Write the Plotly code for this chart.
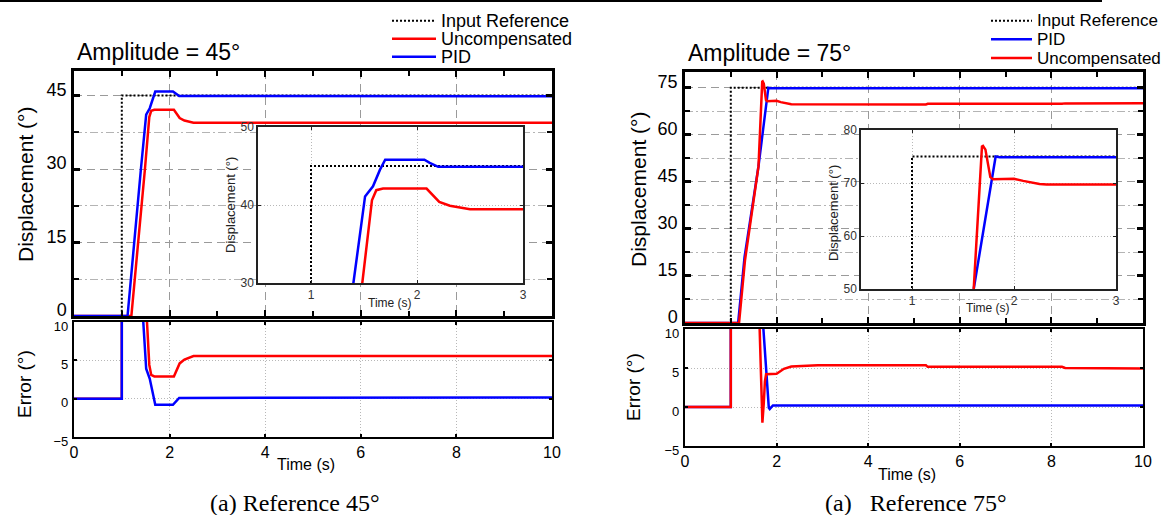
import plotly.graph_objects as go

W, H = 1166, 515

# ---------------- data: Amplitude = 45 deg ----------------
t_ref_45 = [0, 1.0, 1.0, 10]
ref_45 = [0, 0, 45, 45]

t_unc_45 = [0, 1.2, 1.484, 1.575, 1.616, 1.68, 2.09, 2.15, 2.21, 2.31, 2.43, 2.5, 10]
unc_45 = [0, 0, 30, 40.6, 41.9, 42.1, 42.1, 41.3, 40.4, 39.9, 39.6, 39.45, 39.45]

t_pid_45 = [0, 1.12, 1.40, 1.45, 1.51, 1.585, 1.65, 1.70, 2.07, 2.12, 2.2, 10]
pid_45 = [0, 0, 30, 35.2, 41.1, 42.4, 44.5, 45.8, 45.8, 45.4, 44.9, 44.85]

t_err_unc_45 = [0, 1.0, 1.0, 1.2, 1.484, 1.575, 1.616, 1.68, 2.09, 2.15, 2.21, 2.31, 2.43, 2.5, 10]
err_unc_45 = [0, 0, 45, 45, 15, 4.4, 3.1, 2.9, 2.9, 3.7, 4.6, 5.1, 5.4, 5.55, 5.55]

t_err_pid_45 = [0, 1.0, 1.0, 1.12, 1.40, 1.45, 1.51, 1.585, 1.65, 1.70, 2.07, 2.12, 2.2, 10]
err_pid_45 = [0, 0, 45, 45, 15, 9.8, 3.9, 2.6, 0.5, -0.8, -0.8, -0.4, 0.1, 0.15]

# ---------------- data: Amplitude = 75 deg ----------------
t_ref_75 = [0, 1.0, 1.0, 10]
ref_75 = [0, 0, 75, 75]

t_pid_75 = [0, 1.16, 1.30, 1.605, 1.82, 1.86, 10]
pid_75 = [0, 0, 21, 50, 75.0, 74.85, 74.8]

t_unc_75 = [0, 1.18, 1.31, 1.605, 1.686, 1.696, 1.72, 1.745, 1.768, 1.794, 2.0, 2.09, 2.25,
            2.32, 5.26, 5.3, 8.23, 8.3, 10]
unc_75 = [0, 0, 20, 50, 76.9, 77.0, 76.3, 73.2, 71.1, 70.7, 70.8, 70.4, 69.8,
          69.7, 69.65, 69.85, 69.85, 70.0, 70.05]

t_err_pid_75 = [0, 1.0, 1.0, 1.16, 1.30, 1.605, 1.70, 1.83, 1.85, 1.92, 10]
err_pid_75 = [0, 0, 75, 75, 54, 25, 11, -0.1, -0.25, 0.2, 0.2]

t_err_unc_75 = [0, 1.0, 1.0, 1.18, 1.31, 1.60, 1.63, 1.69, 1.72, 1.745, 1.77, 2.0, 2.16, 2.32,
                2.9, 5.26, 5.3, 8.23, 8.3, 10]
err_unc_75 = [0, 0, 75, 75, 55, 25, 10, -2.0, 0.5, 3.3, 4.2, 4.25, 4.9, 5.2,
              5.35, 5.35, 5.15, 5.15, 5.0, 4.95]

legend_45 = ["Input Reference", "Uncompensated", "PID"]
legend_75 = ["Input Reference", "PID", "Uncompensated"]

RED = "#ff0000"
BLUE = "#0000ff"
SANS = "Liberation Sans, Arial, sans-serif"
SERIF = "Liberation Serif, Times New Roman, serif"


def px_x(p):
    return p / W


def px_y(p):
    return 1 - p / H


fig = go.Figure()


def line(x, y, color, xa, ya, dash=None, width=2.5):
    fig.add_trace(go.Scatter(x=x, y=y, mode="lines", xaxis=xa, yaxis=ya, showlegend=False,
                             line=dict(color=color, width=width, dash=dash), hoverinfo="skip"))


DOT = "2px,2px"
# left panel: main (x,y), error (x2,y2), inset (x3,y3)
for xa, ya in [("x", "y"), ("x3", "y3")]:
    line(t_ref_45, ref_45, "black", xa, ya, DOT, 2)
    line(t_unc_45, unc_45, RED, xa, ya)
    line(t_pid_45, pid_45, BLUE, xa, ya)
line(t_err_unc_45, err_unc_45, RED, "x2", "y2")
line(t_err_pid_45, err_pid_45, BLUE, "x2", "y2")

# right panel: main (x4,y4), error (x5,y5), inset (x6,y6)
for xa, ya in [("x4", "y4"), ("x6", "y6")]:
    line(t_ref_75, ref_75, "black", xa, ya, DOT, 2)
    line(t_pid_75, pid_75, BLUE, xa, ya)
    line(t_unc_75, unc_75, RED, xa, ya)
line(t_err_pid_75, err_pid_75, BLUE, "x5", "y5")
line(t_err_unc_75, err_unc_75, RED, "x5", "y5")

DASH_GRID = dict(showgrid=True, gridcolor="#9a9a9a", gridwidth=1.3, griddash="8px,5px")
DOT_GRID = dict(showgrid=True, gridcolor="#b8b8b8", gridwidth=1, griddash="1px,2px")


def main_x(dom, anchor):
    return dict(domain=dom, range=[0, 10], anchor=anchor, showticklabels=False, dtick=2, tick0=0,
                ticks="inside", ticklen=6, tickwidth=2, tickcolor="black", showline=True,
                linewidth=2.5, linecolor="black", mirror="ticks", zeroline=False,
                automargin=False, **DASH_GRID,
                minor=dict(dtick=1, tick0=0, ticks="inside", ticklen=5, tickwidth=2,
                           tickcolor="black", showgrid=False))


def main_y(dom, anchor, top):
    return dict(domain=dom, range=[0, top], anchor=anchor, dtick=15, tick0=0, ticks="inside",
                ticklen=6, tickwidth=2.5, tickcolor="black", showline=True, linewidth=2.5,
                linecolor="black", mirror="ticks", zeroline=False, automargin=False,
                ticklabelshift=-6, ticklabelstandoff=1,
                tickfont=dict(family=SANS, size=18, color="black"), **DASH_GRID,
                minor=dict(dtick=7.5, tick0=0, ticks="inside", ticklen=5, tickwidth=2,
                           tickcolor="black", showgrid=True, gridcolor="#b4b4b4", gridwidth=1,
                           griddash="8px,3px,2px,3px"))


def err_x(dom, anchor):
    return dict(domain=dom, range=[0, 10], anchor=anchor, tickvals=[0, 2, 4, 6, 8, 10],
                ticks="inside", ticklen=3, tickwidth=1.5, tickcolor="black", showline=True,
                linewidth=2.2, linecolor="black", mirror="ticks", zeroline=False,
                automargin=False,
                tickfont=dict(family=SANS, size=16, color="black"), **DOT_GRID)


def err_y(dom, anchor):
    return dict(domain=dom, range=[-5, 10], anchor=anchor, tickvals=[-5, 0, 5, 10],
                ticks="inside", ticklen=3, tickwidth=1.5, tickcolor="black", showline=True,
                linewidth=2.2, linecolor="black", mirror="ticks", zeroline=False,
                automargin=False, ticklabelshift=4, ticklabelstandoff=1,
                tickfont=dict(family=SANS, size=13, color="black"), **DOT_GRID)


def ins_x(dom, anchor):
    return dict(domain=dom, range=[0.5, 3], anchor=anchor, tickvals=[1, 2, 3], ticks="inside",
                ticklen=3, tickwidth=1, tickcolor="#222", showline=True, linewidth=1.5,
                linecolor="#222", mirror="ticks", zeroline=False, automargin=False,
                tickfont=dict(family=SANS, size=12, color="#333"), **DOT_GRID)


def ins_y(dom, anchor, rng, vals):
    return dict(domain=dom, range=rng, anchor=anchor, tickvals=vals, ticks="inside",
                ticklen=3, tickwidth=1, tickcolor="#222", showline=True, linewidth=1.5,
                linecolor="#222", mirror="ticks", zeroline=False, automargin=False,
                ticklabelstandoff=0,
                tickfont=dict(family=SANS, size=12, color="#333"), **DOT_GRID)


L_dom = [px_x(74), px_x(552)]
R_dom = [px_x(685), px_x(1143)]

fig.update_layout(
    width=W, height=H, margin=dict(l=0, r=0, t=0, b=0, pad=0, autoexpand=False),
    paper_bgcolor="white", plot_bgcolor="white", showlegend=False,
    font=dict(family=SANS, color="black"),
    xaxis=main_x(L_dom, "y"),
    yaxis=main_y([px_y(316), px_y(71)], "x", 50),
    xaxis2=err_x(L_dom, "y2"),
    yaxis2=err_y([px_y(437), px_y(322)], "x2"),
    xaxis3=ins_x([px_x(258), px_x(523)], "y3"),
    yaxis3=ins_y([px_y(283), px_y(127)], "x3", [30, 50], [30, 40, 50]),
    xaxis4=main_x(R_dom, "y4"),
    yaxis4=main_y([px_y(323), px_y(72)], "x4", 80),
    xaxis5=err_x(R_dom, "y5"),
    yaxis5=err_y([px_y(446), px_y(329)], "x5"),
    xaxis6=ins_x([px_x(861), px_x(1116)], "y6"),
    yaxis6=ins_y([px_y(289), px_y(130)], "x6", [50, 80], [50, 60, 70, 80]),
)

ann = []


def text(s, x, y, size, family=SANS, angle=0, xanchor="center", color="black"):
    ann.append(dict(text=s, x=px_x(x), y=px_y(y), xref="paper", yref="paper", showarrow=False,
                    xanchor=xanchor, yanchor="middle", textangle=angle,
                    font=dict(family=family, size=size, color=color)))


# titles
text("Amplitude = 45°", 75, 52, 23, xanchor="left")
text("Amplitude = 75°", 686, 53, 23, xanchor="left")
# axis titles
text("Displacement (°)", 25, 185, 21, angle=-90)
text("Displacement (°)", 638, 190, 21, angle=-90)
text("Error (°)", 24, 384, 19, angle=-90)
text("Error (°)", 633, 387, 19, angle=-90)
text("Time (s)", 306, 464, 16)
text("Time (s)", 907, 474, 16)
# inset axis titles
text("Displacement (°)", 230, 205, 13, angle=-90, color="#222")
text("Time (s)", 390, 303, 12, color="#222")
text("Displacement (°)", 833, 213, 13, angle=-90, color="#222")
text("Time (s)", 988, 308, 12, color="#222")
# captions
text("(a) Reference 45°", 295, 503, 24, family=SERIF)
text("(a)\u00a0\u00a0 Reference 75°", 916, 503, 24, family=SERIF)

shapes = [dict(type="line", xref="paper", yref="paper", x0=0, x1=px_x(1102), y0=px_y(1),
               y1=px_y(1), line=dict(color="black", width=2))]

# manual legends
styles = {"Input Reference": ("black", DOT, 2), "Uncompensated": (RED, None, 2.5),
          "PID": (BLUE, None, 2.5)}
for names, x0, x1, xt, rows, fs in [(legend_45, 392, 436, 439, [20.7, 38.7, 56.7], 18),
                                    (legend_75, 991, 1032, 1035, [20.7, 39.3, 58], 17)]:
    for name, yr in zip(names, rows):
        c, d, w = styles[name]
        shapes.append(dict(type="line", xref="paper", yref="paper", x0=px_x(x0), x1=px_x(x1),
                           y0=px_y(yr), y1=px_y(yr), line=dict(color=c, width=w, dash=d)))
        text(name, xt, yr, fs, xanchor="left")

fig.update_layout(annotations=ann, shapes=shapes)
fig.write_html("out.html", config={"displayModeBar": False},
               post_script="document.body.style.margin='0px';document.body.style.padding='0px';")
